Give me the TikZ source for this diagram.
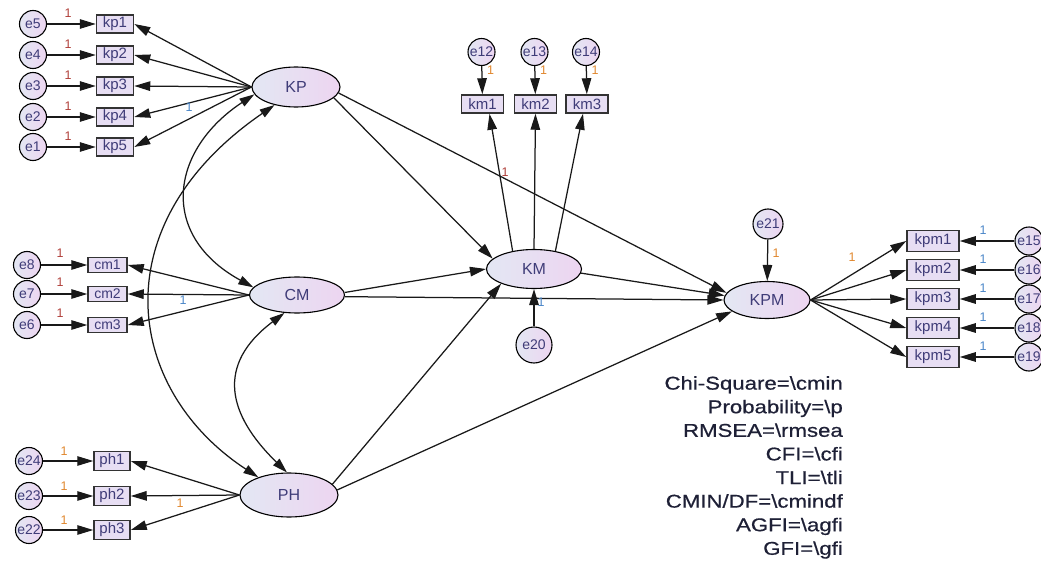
\documentclass[tikz,border=0pt]{standalone}
\usepackage{fontspec}
\setmainfont{Liberation Sans}
\newfontfamily\statfont[FakeStretch=1.2,FakeBold=0.6]{Liberation Sans}
\usetikzlibrary{arrows.meta,shapes.geometric}
\definecolor{latL}{HTML}{E3E7F3}
\definecolor{latR}{HTML}{EDD5F1}
\definecolor{boxfill}{HTML}{E7DEF3}
\definecolor{txt}{HTML}{3F3C78}
\definecolor{onered}{HTML}{B0403A}
\definecolor{oneorg}{HTML}{E0872E}
\definecolor{oneblu}{HTML}{4A86C8}
\definecolor{stat}{HTML}{1E2036}
\begin{document}
\begin{tikzpicture}[x=1pt,y=-1pt,
  lat/.style={ellipse, draw=black, line width=1.1pt, left color=latL, right color=latR, inner sep=0pt, text=txt, font=\fontsize{16}{16}\selectfont},
  obs/.style={rectangle, draw=black!80, line width=1.5pt, fill=boxfill, inner sep=0pt, text=txt, font=\fontsize{15}{15}\selectfont},
  err/.style={circle, draw=black, line width=1.1pt, left color=latL, right color=latR, inner sep=0pt, minimum size=27pt, text=txt, font=\fontsize{14}{14}\selectfont},
  arr/.style={draw=black!90, line width=1.25pt, -{Triangle[length=16pt,width=9.5pt]}},
  cov/.style={draw=black!90, line width=1.25pt, {Triangle[length=15pt,width=9pt]}-{Triangle[length=15pt,width=9pt]}},
  one/.style={font=\fontsize{12.5}{12.5}\selectfont, inner sep=0pt},
]
\useasboundingbox (0,0) rectangle (1041,567);

% latent variables
\node[lat, minimum width=88pt, minimum height=40pt] (KP) at (296,87) {KP};
\node[lat, minimum width=95pt, minimum height=36pt] (CM) at (297,295) {CM};
\node[lat, minimum width=98pt, minimum height=44pt] (PH) at (289,495) {PH};
\node[lat, minimum width=95pt, minimum height=39pt] (KM) at (534,269) {KM};
\node[lat, minimum width=86pt, minimum height=37pt] (KPM) at (767,300) {KPM};

% KP indicators
\foreach \i/\e/\y in {1/5/24, 2/4/55, 3/3/86, 4/2/117, 5/1/147}{
  \node[obs, minimum width=37pt, minimum height=18pt] (kp\i) at (115,\y) {kp\i};
  \node[err] (e\e) at (33,\y) {e\e};
  \draw[arr] (e\e) -- (kp\i);
  \draw[arr] (KP.west) -- (kp\i.east);
  \node[one, text=onered] at (68,\y-11) {1};
}
% CM indicators
\foreach \i/\e/\y in {1/8/265, 2/7/294, 3/6/325}{
  \node[obs, minimum width=39pt, minimum height=15pt, font=\fontsize{14}{14}\selectfont] (cm\i) at (107.5,\y) {cm\i};
  \node[err] (e\e) at (27,\y) {e\e};
  \draw[arr] (e\e) -- (cm\i);
  \draw[arr] (CM.west) -- (cm\i.east);
  \node[one, text=onered] at (60,\y-12) {1};
}
% PH indicators
\foreach \i/\e/\y in {1/24/461, 2/23/496, 3/22/530}{
  \node[obs, minimum width=36pt, minimum height=19pt] (ph\i) at (112,\y) {ph\i};
  \node[err] (e\e) at (29,\y) {e\e};
  \draw[arr] (e\e) -- (ph\i);
  \draw[arr] (PH.west) -- (ph\i.east);
  \node[one, text=oneorg] at (64,\y-10) {1};
}
% KM indicators
\foreach \i/\e/\x in {1/12/482.5, 2/13/535.5, 3/14/587}{
  \node[obs, minimum width=42pt, minimum height=18pt] (km\i) at (\x,104) {km\i};
  \node[err] (e\e) at (\x-1,52) {e\e};
  \draw[arr] (e\e) -- (km\i);
  \node[one, text=oneorg] at (\x+8,70) {1};
}
\draw[arr] (KM.140) -- ([xshift=7pt]km1.south);
\draw[arr] (KM.north) -- (km2.south);
\draw[arr] (KM.40) -- ([xshift=-4pt]km3.south);
% KPM indicators
\foreach \i/\e/\y in {1/15/241, 2/16/270, 3/17/299, 4/18/328, 5/19/357}{
  \node[obs, minimum width=52pt, minimum height=21pt] (kpm\i) at (933,\y) {kpm\i};
  \node[err, minimum size=28pt] (e\e) at (1029,\y) {e\e};
  \draw[arr] (e\e) -- (kpm\i);
  \draw[arr] (KPM.east) -- (kpm\i.west);
  \node[one, text=oneblu] at (983,\y-11) {1};
}
% disturbances
\node[err, minimum size=36pt] (e20) at (534,345) {e20};
\node[err, minimum size=30pt] (e21) at (768,224) {e21};
\draw[arr] (e20) -- (KM);
\draw[arr] (e21) -- (KPM);

% structural paths
\draw[arr] (KP.-16) -- (KM.166);
\draw[arr] (KP.-8) -- (KPM.170);
\draw[arr] (KM.-5) -- (KPM.174);
\draw[arr] (CM.3) -- (KM.180);
\draw[arr] (CM.-2) -- (KPM.180);
\draw[arr] (PH.14) -- (KM.204);
\draw[arr] (PH.6) -- (KPM.198);

% covariances
\draw[cov] (KP.190) .. controls (170,150) and (158,235) .. (CM.170);
\draw[cov] (KP.220) .. controls (100,225) and (125,390) .. (PH.150);
\draw[cov] (CM.235) .. controls (215,365) and (228,415) .. (PH.95);

% path labels
\node[one, text=oneblu] at (189,107) {1};
\node[one, text=oneblu] at (183,300) {1};
\node[one, text=oneorg] at (180,503) {1};
\node[one, text=onered] at (505,172) {1};
\node[one, text=oneblu] at (541,302) {1};
\node[one, text=oneorg] at (776,253) {1};
\node[one, text=oneorg] at (852,257) {1};

% fit statistics
\node[anchor=north east, align=right, inner sep=0pt, text=stat, font={\statfont\fontsize{18.5}{23.6}\selectfont}] (stats) at (843,376)
{Chi-Square=\textbackslash cmin\\ Probability=\textbackslash p\\ RMSEA=\textbackslash rmsea\\ CFI=\textbackslash cfi\\ TLI=\textbackslash tli\\ CMIN/DF=\textbackslash cmindf\\ AGFI=\textbackslash agfi\\ GFI=\textbackslash gfi};
\end{tikzpicture}
\end{document}
